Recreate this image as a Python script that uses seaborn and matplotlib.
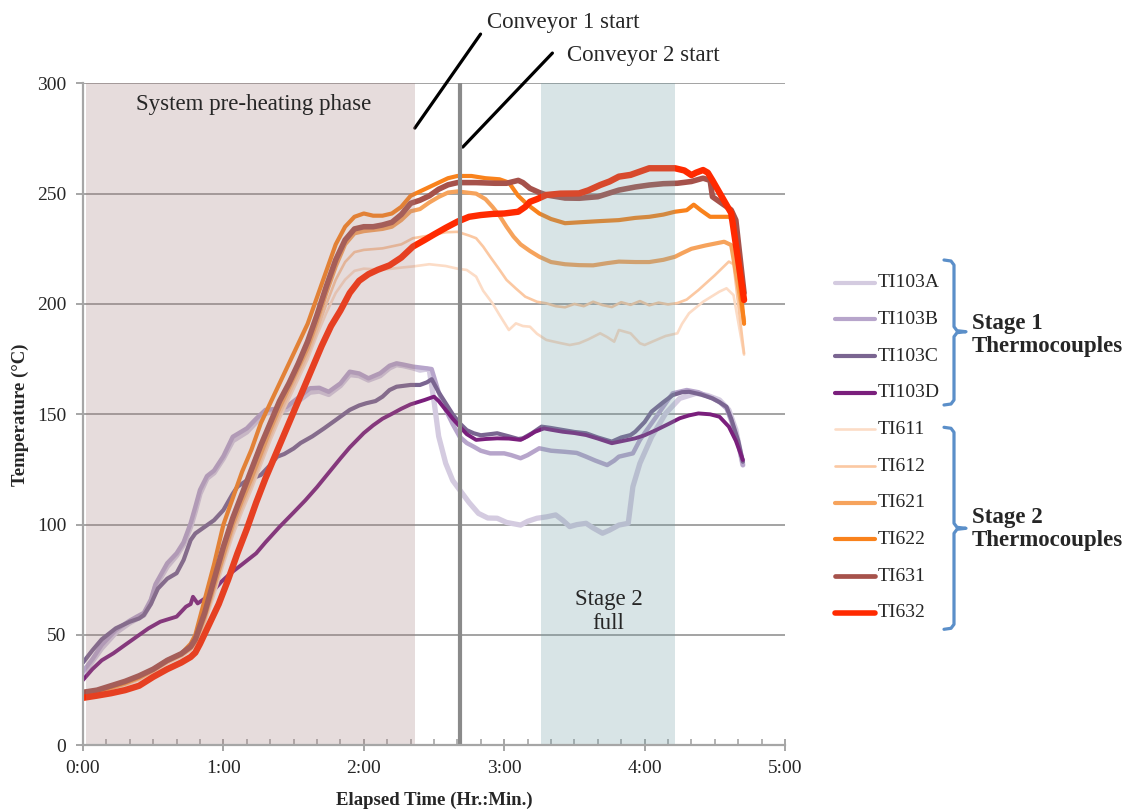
import numpy as np
import pandas as pd
import matplotlib
matplotlib.use("Agg")
import matplotlib.pyplot as plt
from matplotlib.lines import Line2D
from matplotlib.ticker import MultipleLocator, FuncFormatter
import seaborn as sns

# ---- thermocouple readings: elapsed minutes / temperature (degC) ----
TI103A_T = [0, 4, 8, 14, 20, 23, 26, 29, 31, 36, 40, 43, 46, 48, 50, 53, 56, 60, 64, 70,
            74, 78, 83, 87, 92, 97, 101, 105, 110, 114, 118, 122, 127, 131, 134, 137, 141, 144, 147, 148,
            150, 152, 155, 158, 161, 165, 169, 173, 177, 181, 187, 190, 194, 198, 202, 205, 208, 211, 215, 218,
            222, 225, 229, 233, 235, 238, 243, 249, 255, 262, 267, 272, 276, 279, 282]
TI103A_V = [32, 38, 44, 51, 55.5, 57.3, 59, 64.5, 72, 81, 86, 91, 99, 106, 114, 121, 123.5, 130, 138, 142,
            146.5, 150.5, 151.5, 152, 156, 160, 160.5, 159, 163, 168, 167.5, 165.5, 167.5, 171, 172.5, 172, 171, 170, 170.5, 170,
            156, 140, 127.8, 120, 115.7, 110, 105.1, 103, 102.9, 101, 99.8, 101.5, 102.9, 103.5, 104.4, 102, 99.1, 100, 100.6, 98.5,
            96.1, 97.5, 99.8, 100.6, 117.2, 127.8, 139.8, 150.4, 157.2, 159.5, 158.5, 156.5, 152, 143, 127]

TI103B_T = [0, 4, 8, 14, 20, 23, 26, 29, 31, 36, 40, 43, 46, 48, 50, 53, 56, 60, 64, 70,
            74, 78, 83, 87, 92, 97, 101, 105, 110, 114, 118, 122, 127, 131, 134, 137, 141, 147, 149, 152,
            155, 158, 161, 164, 167, 170, 174, 180, 183, 187, 190, 195, 200, 206, 211, 215, 219, 224, 227, 229,
            235, 238, 241, 245, 249, 252, 258, 263, 269, 272, 275, 277, 280, 282]
TI103B_V = [33.5, 39, 45.5, 52.2, 56.5, 58.3, 60, 66, 73, 82.5, 87, 92, 100.6, 108, 115.7, 122, 124.5, 131, 139.8, 143.6,
            148, 152, 152.5, 153.4, 157.5, 161.8, 162, 160.2, 164, 169.3, 168.5, 166.3, 168.6, 172, 173.1, 172.5, 171.6, 170.8, 170.5, 160,
            152, 145.5, 139.8, 137, 135.3, 133.5, 132.3, 132.3, 131.5, 130.1, 131.5, 134.6, 133.5, 133, 132.5, 130.8, 129, 127, 129, 130.8,
            132.3, 138.4, 143, 148.9, 155, 159.5, 161, 160, 157.2, 155.5, 152.7, 147, 137, 127]

TI103C_T = [0, 4, 8, 14, 20, 24, 26, 29, 32, 36, 40, 43, 46, 48, 52, 56, 60, 64, 66, 70,
            76, 80, 83, 86, 90, 93, 98, 103, 108, 114, 118, 121, 125, 128, 131, 134, 140, 144, 147, 149,
            152, 155, 158, 161, 164, 167, 170, 174, 177, 182, 186, 188, 192, 196, 200, 205, 210, 215, 220, 226,
            230, 234, 236, 240, 243, 248, 252, 256, 259, 264, 269, 272, 275, 277, 280, 282]
TI103C_V = [37.5, 43, 48, 53, 56, 57.5, 59, 64, 71, 75.5, 78, 84, 93, 96, 99, 102, 106.6, 114, 117.2, 120,
            122.5, 127, 130.8, 132, 134.5, 137, 140, 143.6, 147.4, 152, 154, 155, 156, 158, 161, 162.5, 163.3, 163.3, 164.5, 165.9,
            160, 155, 150, 145.9, 142.8, 141.4, 140.5, 141, 141.4, 140, 138.8, 139.1, 141.5, 144.4, 143.8, 142.9, 142, 141.4, 139.5, 137.6,
            139.5, 140.6, 142.1, 146.5, 151.2, 155.5, 158.7, 160, 160.2, 159, 157.2, 155.5, 153.4, 148, 138, 128.5]

TI103D_T = [0, 4, 8, 13, 18, 24, 28, 33, 36, 40, 44, 46, 47, 49, 52, 56, 59, 63, 68, 74,
            78, 84, 90, 95, 100, 105, 110, 114, 120, 124, 128, 132, 136, 140, 143, 146, 150, 152, 155, 158,
            161, 164, 168, 172, 177, 182, 187, 190, 193, 197, 200, 205, 210, 215, 220, 226, 231, 236, 240, 245,
            250, 255, 259, 263, 268, 272, 276, 279, 282]
TI103D_V = [29.6, 34.5, 38.5, 41.7, 45.5, 50, 53, 56, 57, 58.3, 62.8, 64, 67.3, 64.3, 66.5, 70.4, 74, 77.9, 82, 87,
            92, 99, 105.5, 111, 117, 123.5, 130, 135, 141.5, 145, 148, 150.2, 152.5, 154.5, 155.5, 156.5, 158, 156, 152, 148,
            144.4, 141, 138.4, 138.8, 139.1, 139, 138.4, 140, 142, 143.6, 143, 142.1, 141.5, 140.6, 139, 136.9, 138, 139.1, 140.5, 142.9,
            145.5, 148.2, 149.5, 150.4, 150, 148.9, 144.4, 138, 129.3]

TI611_T = [0, 6, 12, 18, 24, 30, 36, 42, 46, 48, 52, 56, 60, 64, 68, 72, 76, 80, 84, 88,
           92, 96, 100, 104, 108, 112, 116, 120, 128, 136, 141, 148, 155, 160, 164, 168, 171, 175, 178, 182,
           185, 188, 191, 194, 198, 203, 208, 212, 216, 221, 224, 227, 229, 234, 238, 240, 245, 249, 254, 256,
           259, 265, 272, 275, 278, 282.5]
TI611_V = [22, 23, 25, 27, 29.5, 33, 37, 40, 43, 45.5, 55, 68, 82, 95, 106, 116, 127, 138, 148, 157,
           166, 175, 186, 196, 205, 211, 215, 216, 215.5, 216.5, 217, 218, 217.2, 216, 215.4, 212.4, 206, 200.3, 195, 188.2,
           191.2, 190, 189.7, 186.5, 183.7, 182.5, 181.4, 182.2, 184, 186.7, 185, 182.9, 188.2, 186.7, 182.2, 181.4, 183.7, 185.5, 186.7, 191,
           195.8, 201, 205.6, 207.1, 204, 177]

TI612_T = [0, 6, 12, 18, 24, 30, 36, 42, 46, 48, 52, 56, 60, 64, 68, 72, 76, 80, 84, 88,
           92, 96, 100, 104, 108, 112, 116, 120, 128, 136, 141, 148, 155, 160, 165, 168, 171, 174, 178, 181,
           185, 189, 194, 198, 202, 206, 210, 214, 218, 222, 226, 230, 234, 238, 242, 246, 250, 254, 258, 263,
           270, 276, 278, 282.5]
TI612_V = [22.5, 23.5, 25.5, 27.5, 30, 33.5, 37.5, 40.5, 43.5, 46, 56, 70, 84, 97, 108, 118, 129, 140, 150, 159,
           168, 177, 188, 200, 211, 219, 223.5, 224.5, 225.2, 227, 229.8, 231, 232.5, 232.7, 231, 229.8, 226, 221.4, 215.5, 210.9,
           207, 203.3, 201, 200.3, 199, 198.5, 200, 199, 201, 199.5, 198.6, 200.8, 199.6, 201.3, 199.4, 200.6, 199.8, 200.4, 202, 206.3,
           213, 219.2, 218, 177.6]

TI621_T = [0, 6, 12, 18, 24, 30, 36, 42, 46, 48, 52, 56, 60, 64, 68, 72, 76, 80, 84, 88,
           92, 96, 100, 104, 108, 112, 116, 120, 124, 128, 132, 136, 140, 144, 148, 152, 156, 160, 168, 172,
           175, 178, 181, 184, 187, 191, 195, 200, 206, 212, 218, 224, 229, 236, 242, 248, 253, 256, 260, 266,
           274, 277, 282.5]
TI621_V = [23, 24, 26, 28, 30.5, 34, 38, 41, 44, 47, 58, 72, 86, 100, 111, 121, 132, 143, 153, 162,
           171, 180, 192, 205, 217, 227, 232, 233, 233.5, 234, 235, 238, 242, 243, 246, 248.5, 250.5, 251, 250, 247.5,
           244, 240, 235, 230.5, 227, 224, 221.4, 219, 218, 217.6, 217.5, 218.5, 219.2, 219, 219, 220, 221.4, 223, 225, 226.5,
           228.2, 226.7, 192]

TI622_T = [0, 6, 12, 18, 24, 30, 36, 42, 46, 48, 52, 56, 60, 64, 68, 72, 76, 80, 84, 88,
           92, 96, 100, 104, 108, 112, 116, 120, 124, 128, 132, 136, 140, 144, 148, 152, 156, 160, 166, 172,
           178, 182, 186, 190, 195, 200, 206, 212, 220, 229, 236, 242, 248, 253, 258, 261, 264, 268, 272, 276,
           278, 282.5]
TI622_V = [23.5, 24.5, 26.5, 28.5, 31, 34.5, 38.5, 41.5, 46, 50, 66, 82, 100, 112, 124, 134, 146, 155, 164, 173,
           182, 191, 203, 215, 227, 235, 239.5, 241, 240, 240, 241, 244, 249, 251, 253, 255, 257, 258, 258, 257,
           256.5, 255, 249, 245, 241, 238.5, 236.6, 237, 237.5, 238, 239, 239.5, 240.5, 241.8, 242.5, 245, 242.5, 239.5, 239.5, 239.5,
           238, 191]

TI631_T = [0, 6, 12, 18, 24, 30, 36, 42, 46, 48, 52, 56, 60, 64, 68, 72, 76, 80, 84, 88,
           92, 96, 100, 104, 108, 112, 116, 120, 124, 128, 132, 136, 140, 144, 148, 152, 156, 160, 168, 176,
           181, 186, 188, 191, 195, 198, 206, 212, 220, 229, 236, 242, 248, 254, 260, 265, 268, 269, 273, 277,
           279, 282.5]
TI631_V = [24, 25, 27, 29, 31.5, 34.5, 38.5, 41.5, 44.7, 48, 60, 75, 90, 103, 114, 125, 136, 146, 156, 164,
           173, 183, 195, 208, 220, 229, 234, 235, 235, 235.8, 237, 240.5, 245.6, 247, 249, 252, 254, 255, 255, 254.7,
           254.7, 256, 255, 252.4, 250.5, 249.4, 248, 247.9, 248.6, 251.6, 253, 253.9, 254.5, 254.7, 255.5, 257, 256, 248.6, 245.6, 242.6,
           238, 205]

TI632_T = [0, 6, 12, 18, 24, 30, 36, 42, 46, 48, 50, 54, 58, 62, 66, 70, 74, 78, 82, 86,
           90, 94, 98, 102, 106, 110, 114, 118, 122, 126, 131, 136, 141, 146, 150, 155, 160, 165, 170, 175,
           180, 186, 189, 191, 194, 198, 204, 212, 216, 221, 225, 229, 234, 238, 242, 248, 253, 257, 260, 262,
           265, 267, 269, 273, 277, 282.5]
TI632_V = [21.5, 22.5, 23.6, 25, 27, 31, 34.5, 37.5, 40, 42, 46, 55, 64, 75, 87, 98, 110, 121, 131, 141,
           151, 161, 171, 181, 190, 197, 205, 210.5, 213.5, 215.5, 217.5, 221, 226, 229, 231.5, 234.5, 237.3, 239.5, 240.3, 240.8,
           241, 241.8, 244, 246.3, 247.5, 249.4, 250, 250.1, 251.5, 253.9, 255.5, 257.7, 258.5, 260, 261.5, 261.5, 261.5, 260.5, 258.4, 259.5,
           260.7, 259.5, 256, 248.6, 241.2, 201.8]

SENSORS = ["TI103A", "TI103B", "TI103C", "TI103D",
           "TI611", "TI612", "TI621", "TI622", "TI631", "TI632"]
TIMES = [TI103A_T, TI103B_T, TI103C_T, TI103D_T, TI611_T, TI612_T, TI621_T, TI622_T, TI631_T, TI632_T]
TEMPS = [TI103A_V, TI103B_V, TI103C_V, TI103D_V, TI611_V, TI612_V, TI621_V, TI622_V, TI631_V, TI632_V]

COLORS = {"TI103A": "#d4cbe0", "TI103B": "#b7a5cb", "TI103C": "#7a6591", "TI103D": "#7a1f7c",
          "TI611": "#fcdcc6", "TI612": "#fbc8a2", "TI621": "#f6a35c", "TI622": "#f9821c",
          "TI631": "#a6524b", "TI632": "#ff2a00"}
WIDTHS = {"TI103A": 3.8, "TI103B": 3.2, "TI103C": 3.0, "TI103D": 2.8,
          "TI611": 1.9, "TI612": 1.9, "TI621": 3.0, "TI622": 3.0,
          "TI631": 4.0, "TI632": 4.6}

frames = [pd.DataFrame({"minutes": t, "temp": v, "sensor": s})
          for s, t, v in zip(SENSORS, TIMES, TEMPS)]
df = pd.concat(frames, ignore_index=True)

sns.set_theme(style="white")
plt.rcParams["font.family"] = ["Liberation Serif", "DejaVu Serif"]

W, H = 1126, 810
fig = plt.figure(figsize=(W / 100, H / 100), dpi=100)
ax = fig.add_axes([83 / W, 1 - 745.3 / H, 702 / W, 662 / H])

sns.lineplot(data=df, x="minutes", y="temp", hue="sensor", hue_order=SENSORS,
             palette=COLORS, size="sensor", size_order=SENSORS, sizes=WIDTHS,
             estimator=None, sort=False, legend=False, ax=ax)
for ln in ax.lines:
    ln.set_solid_joinstyle("round")
    ln.set_solid_capstyle("round")
    ln.set_zorder(3)

# process phases (translucent overlays)
ax.axvspan(1.3, 141.8, color="#a47f7f", alpha=0.27, lw=0, zorder=5)
ax.axvspan(195.9, 253.2, color="#709da4", alpha=0.27, lw=0, zorder=5)
ax.axvline(161, color="#8a8a8a", lw=3, zorder=6)

ax.set_xlim(0, 300)
ax.set_ylim(0, 300)
ax.yaxis.set_major_locator(MultipleLocator(50))
ax.xaxis.set_major_locator(MultipleLocator(60))
ax.xaxis.set_minor_locator(MultipleLocator(10))
ax.xaxis.set_major_formatter(FuncFormatter(lambda m, _: f"{int(m) // 60}:{int(m) % 60:02d}"))

ax.grid(False)
ax.yaxis.grid(True, color="#a3a3a3", lw=1.4)
ax.set_axisbelow(True)
for side in ("top", "right"):
    ax.spines[side].set_visible(False)
for side in ("left", "bottom"):
    ax.spines[side].set_color("#a6a6a6")
    ax.spines[side].set_linewidth(1.6)
    ax.spines[side].set_zorder(7)

ax.tick_params(axis="x", which="major", direction="inout", length=9, width=1.4,
               color="#a6a6a6", labelsize=14, pad=6, bottom=True)
ax.tick_params(axis="x", which="minor", direction="in", length=4, width=1.2,
               color="#a6a6a6", bottom=True)
ax.tick_params(axis="y", which="major", direction="out", length=5, width=1.4,
               color="#a6a6a6", labelsize=14, pad=7, left=True)

ax.set_xlabel("Elapsed Time (Hr.:Min.)", fontsize=13.5, fontweight="bold")
ax.set_ylabel("Temperature (°C)", fontsize=13.5, fontweight="bold")
ax.xaxis.label.set_va("center")
ax.yaxis.label.set_va("center")
ax.xaxis.set_label_coords(0.5, -0.083)
ax.yaxis.set_label_coords(-0.0897, 0.5)

# annotations
TXT = 16.5
ax.text(73, 290.2, "System pre-heating phase", ha="center", va="center", fontsize=TXT, zorder=8)
ax.text(224.6, 60.6, "Stage 2\nfull", ha="center", va="center", fontsize=TXT,
        linespacing=1.15, zorder=8)
ax.annotate("", xy=(141.8, 279.7), xytext=(169.9, 322.3), annotation_clip=False,
            arrowprops=dict(arrowstyle="-", color="black", lw=2.3, shrinkA=0, shrinkB=0))
ax.annotate("", xy=(162.3, 271.1), xytext=(200.6, 313.7), annotation_clip=False,
            arrowprops=dict(arrowstyle="-", color="black", lw=2.3, shrinkA=0, shrinkB=0))
ax.text(172.5, 327.7, "Conveyor 1 start", ha="left", va="center", fontsize=TXT, clip_on=False)
ax.text(206.7, 312.8, "Conveyor 2 start", ha="left", va="center", fontsize=TXT, clip_on=False)

# legend column
LEG_WIDTHS = {"TI103A": 3.0, "TI103B": 3.0, "TI103C": 3.0, "TI103D": 3.0,
              "TI611": 1.9, "TI612": 1.9, "TI621": 3.0, "TI622": 3.0,
              "TI631": 3.4, "TI632": 4.0}
for i, s in enumerate(SENSORS):
    yp = 282.7 + 36.67 * i
    fig.add_artist(Line2D([835 / W, 875 / W], [1 - yp / H] * 2, color=COLORS[s],
                          lw=LEG_WIDTHS[s], solid_capstyle="round"))
    fig.text(878 / W, 1 - yp / H, s, ha="left", va="center", fontsize=14)


def bracket(top, bottom, mid):
    xs_v, x_tip, x_out = 954, 944, 966
    r = 5
    pts = [(x_tip, top), (xs_v - 3, top + 1), (xs_v, top + r),
           (xs_v, mid - r), (xs_v + 3, mid - 1), (x_out, mid),
           (xs_v + 3, mid + 1), (xs_v, mid + r),
           (xs_v, bottom - r), (xs_v - 3, bottom - 1), (x_tip, bottom)]
    fig.add_artist(Line2D([p[0] / W for p in pts], [1 - p[1] / H for p in pts],
                          color="#5b8fc9", lw=2.3, solid_joinstyle="round"))


bracket(260, 405, 331.7)
bracket(427.3, 629.3, 528.3)
fig.text(972 / W, 1 - 335 / H, "Stage 1\nThermocouples", ha="left", va="center",
         fontsize=TXT, fontweight="bold", linespacing=1.12)
fig.text(972 / W, 1 - 529 / H, "Stage 2\nThermocouples", ha="left", va="center",
         fontsize=TXT, fontweight="bold", linespacing=1.12)

fig.savefig("out.png", dpi=100)
